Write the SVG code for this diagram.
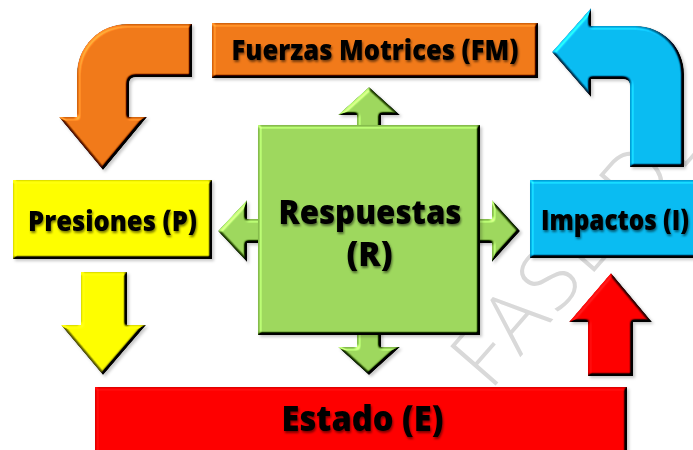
<svg xmlns="http://www.w3.org/2000/svg" width="693" height="450" viewBox="0 0 693 450">
  <defs>
    <filter id="bevel" x="-10%" y="-10%" width="125%" height="125%" color-interpolation-filters="sRGB">
      <feGaussianBlur in="SourceAlpha" stdDeviation="1.8" result="blur"/>
      <feDiffuseLighting in="blur" surfaceScale="6" diffuseConstant="1" lighting-color="#ffffff" result="light">
        <feDistantLight azimuth="225" elevation="50"/>
      </feDiffuseLighting>
      <feComposite in="SourceGraphic" in2="light" operator="arithmetic" k1="1" k2="0.234" k3="0.45" k4="-0.345" result="lit"/>
      <feComposite in="lit" in2="SourceAlpha" operator="in" result="litIn"/>
      <feGaussianBlur in="SourceAlpha" stdDeviation="1.5" result="sb"/>
      <feOffset in="sb" dx="1.5" dy="1.5" result="so"/>
      <feFlood flood-color="#000000" flood-opacity="0.22"/>
      <feComposite in2="so" operator="in" result="shadow"/>
      <feMerge>
        <feMergeNode in="shadow"/>
        <feMergeNode in="litIn"/>
      </feMerge>
    </filter>
    <filter id="tshadow" x="-10%" y="-30%" width="120%" height="160%" color-interpolation-filters="sRGB">
      <feGaussianBlur in="SourceAlpha" stdDeviation="1.2" result="b"/>
      <feOffset in="b" dx="1.2" dy="1.5" result="o"/>
      <feFlood flood-color="#000000" flood-opacity="0.5"/>
      <feComposite in2="o" operator="in" result="s"/>
      <feMerge>
        <feMergeNode in="s"/>
        <feMergeNode in="SourceGraphic"/>
      </feMerge>
    </filter>
  </defs>
  <style>
    .shape { filter: url(#bevel); }
    .lbl { font-family: "Open Sans", "Liberation Sans", sans-serif; font-weight: 800; fill: #000000; text-anchor: middle; filter: url(#tshadow); }
    .wm { font-family: "Open Sans", "DejaVu Sans", sans-serif; font-weight: 300; fill: #d9d9d9; }
    .orange { fill: #f27a1a; }
    .blue { fill: #0abcf3; }
    .yellow { fill: #ffff00; }
    .red { fill: #ff0000; }
    .green { fill: #9ed95e; }
  </style>
  <rect x="0" y="0" width="693" height="450" fill="#ffffff"/>

  <g id="watermark">
    <text class="wm" x="490" y="392" font-size="84" letter-spacing="4" transform="rotate(-49 490 392)">FASE DE</text>
  </g>

  <g id="connectors">
    <path class="shape orange" d="M192,24 L127,24 A50,50 0 0 0 77,74 L77,117 L59,117 L103,170 L147,117 L129,117 L129,84 Q129,77 136,77 L192,77 Z"/>
    <path class="shape blue" d="M552,52 L591,8 L591,26 L636,26 A48,48 0 0 1 684,74 L684,167 L630,167 L630,86 Q630,79 623,79 L591,79 L591,97 Z"/>
    <path class="shape yellow" d="M81,272 L127,272 L127,325 L146,325 L103,375 L61,325 L81,325 Z"/>
    <path class="shape red" d="M588,376 L588,322 L569,322 L611,273 L652,322 L633,322 L633,376 Z"/>
    <path class="shape green" d="M369,87 L400,115 L381,115 L381,219 L492,219 L492,200 L520,231 L492,262 L492,243 L381,243 L381,347 L400,347 L369,375 L338,347 L357,347 L357,243 L247,243 L247,262 L218,231 L247,200 L247,219 L357,219 L357,115 L338,115 Z"/>
  </g>

  <g id="node-fm">
    <rect class="shape orange" x="212" y="23" width="326" height="55"/>
    <text class="lbl" x="375" y="60" font-size="29" textLength="287" lengthAdjust="spacingAndGlyphs">Fuerzas Motrices (FM)</text>
  </g>

  <g id="node-p">
    <rect class="shape yellow" x="13" y="180" width="199" height="79"/>
    <text class="lbl" x="112.5" y="231" font-size="28" textLength="169" lengthAdjust="spacingAndGlyphs">Presiones (P)</text>
  </g>

  <g id="node-r">
    <rect class="shape green" x="258" y="125" width="222" height="210"/>
    <text class="lbl" x="370" y="224" font-size="33" textLength="183" lengthAdjust="spacingAndGlyphs">Respuestas</text>
    <text class="lbl" x="369.5" y="266" font-size="33" textLength="46" lengthAdjust="spacingAndGlyphs">(R)</text>
  </g>

  <g id="node-i">
    <rect class="shape blue" x="530" y="180" width="180" height="78"/>
    <text class="lbl" x="541" y="230" font-size="29" textLength="148" lengthAdjust="spacingAndGlyphs" style="text-anchor:start">Impactos (I)</text>
  </g>

  <g id="node-e">
    <rect class="shape red" x="95" y="387" width="532" height="80"/>
    <text class="lbl" x="362.5" y="431" font-size="35" textLength="162" lengthAdjust="spacingAndGlyphs">Estado (E)</text>
  </g>
</svg>
